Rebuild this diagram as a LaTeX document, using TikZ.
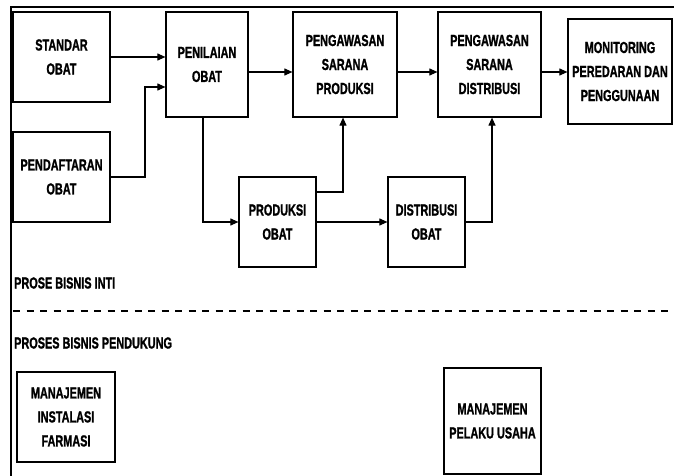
\documentclass[tikz,border=0pt]{standalone}
\usepackage{fontspec}
\setmainfont{Liberation Sans}[FakeStretch=0.68,BoldFeatures={FakeBold=1.2}]
\usepackage{tikz}
\usetikzlibrary{arrows.meta}

\tikzset{
  box/.style={draw, line width=1.2pt, align=center, inner sep=0pt,
    font=\fontsize{16}{24}\selectfont\bfseries},
  flow/.style={line width=1.1pt, -{Triangle[length=8pt,width=7pt]}},
  lbl/.style={anchor=west, inner sep=0pt, font=\fontsize{16}{18}\selectfont\bfseries}
}

\begin{document}
\begin{tikzpicture}[x=1pt,y=-1pt]
\useasboundingbox (0,0) rectangle (674,476);
\draw[line width=2.2pt] (674,7) -- (11,7) -- (11,476);
\node[box, minimum width=97pt, minimum height=90pt] (std) at (61.5,57) {STANDAR\\OBAT};
\node[box, minimum width=97pt, minimum height=90pt] (daf) at (61.5,177) {PENDAFTARAN\\OBAT};
\node[box, minimum width=82pt, minimum height=105pt] (nil) at (207,64.5) {PENILAIAN\\OBAT};
\node[box, minimum width=104pt, minimum height=105pt] (pgp) at (345,64.5) {PENGAWASAN\\SARANA\\PRODUKSI};
\node[box, minimum width=103pt, minimum height=105pt] (pgd) at (489.5,64.5) {PENGAWASAN\\SARANA\\DISTRIBUSI};
\node[box, minimum width=104pt, minimum height=105pt] (mon) at (620,71.5) {MONITORING\\PEREDARAN DAN\\PENGGUNAAN};
\node[box, minimum width=77pt, minimum height=90pt] (prd) at (277.5,222) {PRODUKSI\\OBAT};
\node[box, minimum width=77pt, minimum height=90pt] (dst) at (426.5,222) {DISTRIBUSI\\OBAT};
\node[lbl] (inti) at (14,283) {PROSE BISNIS INTI};
\node[lbl] (dukung) at (14,343) {PROSES BISNIS PENDUKUNG};
\node[box, minimum width=98pt, minimum height=90pt] (mif) at (66,417) {MANAJEMEN\\INSTALASI\\FARMASI};
\node[box, minimum width=97pt, minimum height=106pt] (mpu) at (492.5,421) {MANAJEMEN\\PELAKU USAHA};
\coordinate (batasL) at (13,311);
\coordinate (batasR) at (674,311);
\draw[line width=2pt, dash pattern=on 7pt off 6.5pt] (batasL) -- (batasR);
\draw[flow] (std.east) -- (std.east -| nil.west);
\draw[flow] (daf.east) -| (145,87) -- (145,87 -| nil.west);
\draw[flow] (nil.east |- 0,72) -- (pgp.west |- 0,72);
\draw[flow] (pgp.east |- 0,72) -- (pgd.west |- 0,72);
\draw[flow] (pgd.east |- 0,72) -- (mon.west |- 0,72);
\draw[flow] (nil.south -| 203,0) |- (prd.west);
\draw[flow] (prd.east |- 0,192) -| (pgp.south -| 343,0);
\draw[flow] (prd.east) -- (dst.west);
\draw[flow] (dst.east) -| (pgd.south -| 492,0);
\end{tikzpicture}
\end{document}
